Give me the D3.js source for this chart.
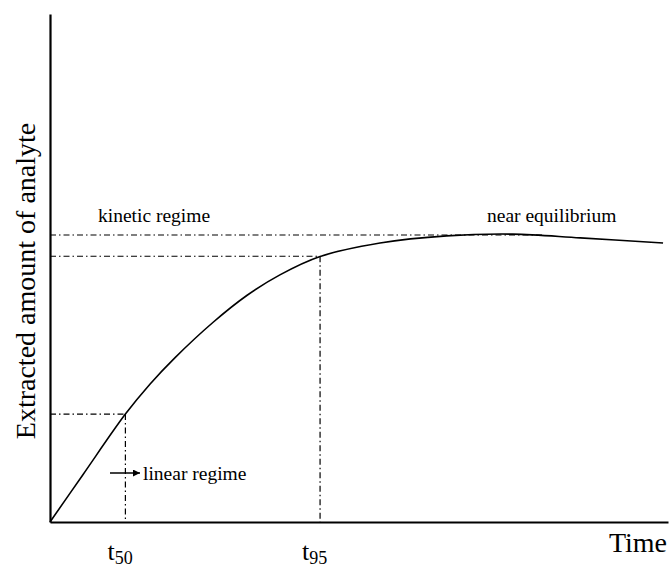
<!DOCTYPE html>
<html>
<head>
<meta charset="utf-8">
<script src="https://cdn.jsdelivr.net/npm/d3@7"></script>
<style>
  body { margin: 0; background: #fff; }
  text { font-family: "Liberation Serif", "Times New Roman", serif; fill: #000; }
</style>
</head>
<body>
<div id="chart"></div>
<script>
// curve (time, amount)
var times   = [0, 5.3, 12.2, 16.2, 20.2, 26.4, 31.9, 37.2, 43.7, 53.4, 64.2, 74.9, 85.8, 99.2];
var amounts = [0, 16.4, 37.6, 48.1, 57.2, 69.6, 79.0, 86.1, 92.5, 97.2, 99.7, 100.3, 99.0, 97.2];

// guide lines: time mark, amount level, where the horizontal line ends
var guideNames  = ["t50", "t95", "eq"];
var guideTimes  = [12.2, 43.7, null];
var guideValues = [37.6, 92.6, 100];
var guideEnds   = [12.2, 43.7, 79.8];

var width = 671, height = 567;

var x = d3.scaleLinear().domain([0, 100]).range([50, 668]);
var y = d3.scaleLinear().domain([0, 177]).range([522, 14]);

var svg = d3.select("#chart").append("svg")
    .attr("width", width)
    .attr("height", height)
    .style("background-color", "#fff");

// dash-dot guides
var dash = "6,3,1.5,3";
guideNames.forEach(function(n, i) {
  svg.append("line")
      .attr("x1", x(0)).attr("x2", x(guideEnds[i]))
      .attr("y1", y(guideValues[i])).attr("y2", y(guideValues[i]))
      .attr("stroke", "#000").attr("stroke-width", 1.2)
      .attr("stroke-dasharray", dash);
  if (guideTimes[i] != null) {
    svg.append("line")
        .attr("x1", x(guideTimes[i])).attr("x2", x(guideTimes[i]))
        .attr("y1", y(guideValues[i])).attr("y2", y(0))
        .attr("stroke", "#000").attr("stroke-width", 1.2)
        .attr("stroke-dasharray", dash);
  }
});

// Axes (no ticks)
svg.append("g")
    .attr("transform", "translate(" + x(0) + ",0)")
    .call(d3.axisLeft(y).tickValues([]).tickSizeOuter(0))
    .select(".domain").attr("stroke-width", 2.2);

svg.append("g")
    .attr("transform", "translate(0," + y(0) + ")")
    .call(d3.axisBottom(x).tickValues([]).tickSizeOuter(0))
    .select(".domain").attr("stroke-width", 2.2);

// extraction curve
var data = times.map(function(t, i) { return {t: t, v: amounts[i]}; });
svg.append("path")
    .datum(data)
    .attr("fill", "none")
    .attr("stroke", "#000")
    .attr("stroke-width", 1.6)
    .attr("d", d3.line()
      .x(function(d) { return x(d.t); })
      .y(function(d) { return y(d.v); })
      .curve(d3.curveCatmullRom.alpha(0.5)));

// Labels
svg.append("text")
    .attr("text-anchor", "middle")
    .style("font-size", "28px")
    .attr("transform", "translate(35,281)rotate(-90)")
    .text("Extracted amount of analyte");

svg.append("text")
    .attr("x", 667).attr("y", 552)
    .attr("text-anchor", "end")
    .style("font-size", "28px")
    .text("Time");

svg.append("text")
    .attr("x", 98).attr("y", 222)
    .style("font-size", "19.5px")
    .text("kinetic regime");

svg.append("text")
    .attr("x", 487).attr("y", 222)
    .style("font-size", "19.5px")
    .text("near equilibrium");

// arrow + linear regime
svg.append("defs").append("marker")
    .attr("id", "arr")
    .attr("viewBox", "0 0 10 10")
    .attr("refX", 10).attr("refY", 5)
    .attr("markerWidth", 7).attr("markerHeight", 7)
    .attr("markerUnits", "userSpaceOnUse")
    .attr("orient", "auto")
    .append("path").attr("d", "M0,0L10,5L0,10Z").attr("fill", "#000");

svg.append("line")
    .attr("x1", 110).attr("x2", 140)
    .attr("y1", 473).attr("y2", 473)
    .attr("stroke", "#000").attr("stroke-width", 1.5)
    .attr("marker-end", "url(#arr)");

svg.append("text")
    .attr("x", 143).attr("y", 480)
    .style("font-size", "19.5px")
    .text("linear regime");

// t50 / t95 labels
var tLabels = [{sub: "50", t: guideTimes[0]}, {sub: "95", t: guideTimes[1]}];
tLabels.forEach(function(d) {
  var tx = svg.append("text")
      .attr("x", x(d.t) - 18).attr("y", 560)
      .style("font-size", "26px");
  tx.append("tspan").text("t");
  tx.append("tspan").attr("dy", 4).style("font-size", "18px").text(d.sub);
});
</script>
</body>
</html>
